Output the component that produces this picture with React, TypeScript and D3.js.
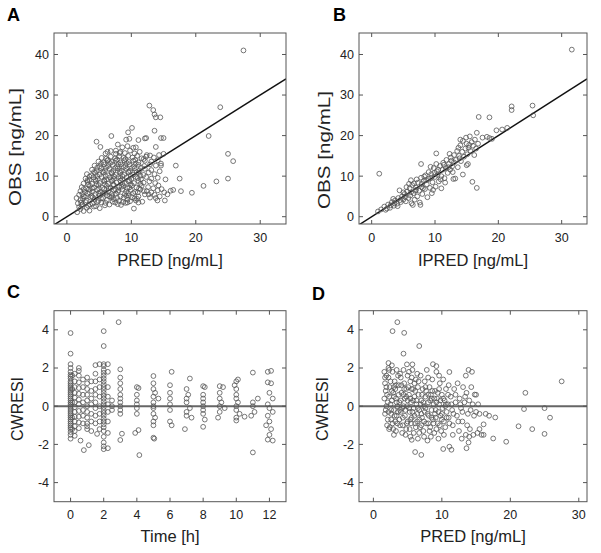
import React from "react";
import * as d3 from "d3";

const concXTicks = [0, 10, 20, 30];
const concYTicks = [0, 10, 20, 30, 40];
const timeTicks = [0, 2, 4, 6, 8, 10, 12];
const resTicks = [-4, -2, 0, 2, 4];

// Panel A: PRED vs OBS
const obsVsPred: [number, number][] = [
  [27.4, 41.0], [12.8, 27.4], [13.4, 26.3], [13.6, 25.2], [13.8, 24.5], [14.5, 24.5],
  [23.8, 27.0], [22.0, 19.9], [25.0, 15.5], [25.8, 13.7], [25.0, 9.4], [23.2, 8.7],
  [21.2, 7.6], [19.4, 5.9], [17.7, 6.3], [17.5, 9.4], [16.9, 12.6],
  [10.1, 21.9], [9.5, 20.8], [6.9, 19.9], [4.6, 18.5], [5.2, 17.2], [9.2, 19.0], [9.7, 19.2],
  [11.1, 18.9], [12.1, 19.3], [12.3, 19.4], [13.6, 21.2], [14.6, 19.4], [15.0, 19.4],
  [13.8, 17.2], [7.9, 17.8], [8.6, 17.1], [9.4, 17.4], [10.3, 17.0], [10.7, 17.1],
  [6.3, 16.0], [7.6, 16.3], [8.2, 15.7], [15.3, 9.2], [14.6, 12.6], [14.7, 6.8],
  [16.1, 6.4], [15.6, 5.5], [15.2, 4.0], [10.4, 2.0], [11.95, 6.3], [12.7, 5.5],
  [13.8, 4.6], [14.05, 4.0], [11.1, 3.5], [10.7, 4.0], [9.4, 3.5],
  [1.6, 1.1], [2.1, 1.9], [2.6, 1.4], [3.1, 2.2], [3.5, 1.5], [4.2, 2.5], [5.1, 2.1], [2.3, 2.8], [1.9, 2.4],
  [1.7, 3.3], [2.4, 3.0], [2.9, 3.6], [3.3, 2.7], [4.0, 3.2], [4.5, 2.6], [5.3, 3.5], [5.9, 2.8], [6.6, 3.0],
  [7.1, 3.7], [7.9, 3.1], [8.4, 2.9], [9.1, 3.4], [9.8, 3.8], [2.1, 4.1],
  [1.5, 4.6], [2.5, 4.4], [3.0, 4.0], [3.7, 4.7], [4.3, 4.2], [4.9, 3.9], [5.6, 4.6], [6.2, 4.1], [6.9, 4.8],
  [7.3, 4.3], [8.1, 3.9], [8.8, 4.7], [9.4, 4.2], [10.1, 4.8], [10.9, 4.4], [11.7, 3.7],
  [1.9, 5.4], [2.6, 5.0], [3.2, 5.7], [3.8, 5.1], [4.4, 5.6], [5.1, 5.2], [5.7, 5.8], [6.2, 5.3], [7.0, 5.1],
  [7.6, 5.7], [8.3, 5.0], [9.0, 5.6], [9.6, 5.2], [10.3, 5.8], [11.1, 5.0], [12.1, 5.5], [12.9, 4.7],
  [13.6, 5.4], [14.4, 5.0],
  [2.1, 6.3], [2.8, 6.1], [3.4, 6.7], [4.0, 6.2], [4.7, 6.6], [5.2, 6.1], [5.8, 6.8], [6.4, 6.3], [7.3, 6.5],
  [7.9, 6.1], [8.6, 6.8], [9.2, 6.2], [9.9, 6.6], [10.6, 6.1], [11.4, 6.7], [12.4, 6.3], [13.1, 6.0],
  [14.1, 6.5], [15.1, 6.0], [16.5, 6.6],
  [2.3, 7.3], [3.0, 7.0], [3.6, 7.6], [4.2, 7.2], [4.9, 7.8], [5.5, 7.1], [6.2, 7.6], [6.8, 7.1], [7.3, 7.8],
  [8.1, 7.3], [8.8, 7.6], [9.4, 7.0], [10.1, 7.7], [10.8, 7.2], [11.6, 7.6], [12.6, 7.3], [13.4, 7.0], [14.2, 7.7],
  [2.6, 8.2], [3.2, 8.6], [3.9, 8.1], [4.5, 8.8], [5.1, 8.3], [5.8, 8.7], [6.4, 8.1], [7.0, 8.8], [7.7, 8.4],
  [8.3, 8.9], [9.0, 8.2], [9.6, 8.7], [10.4, 8.3], [11.1, 8.8], [11.9, 8.4], [12.8, 8.7], [13.7, 8.3],
  [2.9, 9.4], [3.5, 9.1], [4.1, 9.7], [4.8, 9.3], [5.4, 9.8], [6.1, 9.2], [6.7, 9.7], [7.3, 9.3], [8.0, 9.8],
  [8.6, 9.2], [9.3, 9.7], [10.0, 9.3], [10.7, 9.8], [11.5, 9.2], [12.3, 9.8], [13.1, 9.4], [14.1, 9.6],
  [3.1, 10.5], [3.8, 10.2], [4.4, 10.8], [5.1, 10.4], [5.7, 10.9], [6.4, 10.2], [7.0, 10.7], [7.6, 10.3],
  [8.3, 10.8], [8.9, 10.3], [9.6, 10.9], [10.3, 10.4], [11.1, 10.8], [11.9, 10.3], [12.7, 10.9], [13.6, 10.5],
  [3.9, 11.6], [4.6, 11.3], [5.3, 11.9], [5.9, 11.4], [6.6, 11.8], [7.2, 11.3], [7.9, 11.9], [8.5, 11.4],
  [9.2, 11.8], [9.8, 11.3], [10.5, 11.9], [11.3, 11.4], [12.1, 11.8], [13.1, 11.5], [14.4, 11.2],
  [4.3, 12.6], [5.1, 12.4], [5.8, 12.9], [6.4, 12.5], [7.1, 12.8], [7.8, 12.4], [8.4, 12.9], [9.1, 12.5],
  [9.7, 12.9], [10.4, 12.4], [11.1, 12.8], [12.0, 12.5], [12.9, 12.9], [13.8, 12.6], [14.6, 13.1],
  [4.9, 13.6], [5.7, 13.4], [6.3, 13.9], [7.0, 13.5], [7.6, 13.8], [8.3, 13.4], [8.9, 13.9], [9.6, 13.5],
  [10.3, 13.8], [11.1, 13.4], [12.1, 13.8], [13.1, 13.6], [14.1, 13.9],
  [5.4, 14.5], [6.1, 14.3], [6.8, 14.8], [7.5, 14.4], [8.1, 14.9], [8.8, 14.5], [9.5, 15.0], [10.2, 14.6],
  [10.9, 15.0], [11.6, 14.4], [12.3, 14.8], [12.9, 15.1], [13.5, 14.6], [14.3, 15.2], [15.0, 15.5],
  [6.0, 15.6], [6.8, 16.2], [7.6, 15.5], [8.3, 16.0], [9.0, 15.7], [9.8, 16.3], [10.5, 15.6], [11.3, 16.0], [12.4, 15.2],
  [2.2, 3.5], [3.6, 3.0], [4.7, 3.6], [6.0, 3.4], [7.5, 3.5], [8.7, 3.6],
  [2.8, 4.9], [4.0, 4.8], [5.3, 4.5], [6.6, 5.0], [7.8, 4.6], [9.2, 5.1], [10.5, 4.5],
  [2.4, 5.6], [3.5, 6.0], [4.9, 5.7], [6.0, 5.9], [7.0, 5.6], [8.0, 6.5], [9.5, 5.8], [11.0, 6.0],
  [2.6, 6.8], [3.9, 7.0], [5.0, 6.9], [6.5, 7.0], [7.6, 6.7], [8.5, 7.4], [9.7, 7.2], [11.2, 7.0],
  [3.3, 7.9], [4.6, 8.0], [5.9, 8.0], [7.2, 7.9], [8.6, 8.1], [9.9, 8.0], [11.4, 8.1],
  [3.2, 9.0], [4.4, 9.2], [5.8, 9.0], [7.0, 9.1], [8.3, 9.5], [9.7, 9.0], [11.0, 9.5],
  [3.5, 9.9], [4.7, 10.0], [6.0, 10.0], [7.3, 9.9], [8.6, 10.0], [9.9, 10.1], [11.4, 10.1],
  [4.2, 11.0], [5.5, 11.1], [6.9, 11.0], [8.2, 11.2], [9.5, 11.1], [10.8, 11.0],
  [4.7, 12.1], [6.1, 12.1], [7.5, 12.0], [8.8, 12.2], [10.1, 12.0], [11.5, 12.1],
  [5.3, 13.1], [6.7, 13.2], [8.0, 13.0], [9.3, 13.2], [10.7, 13.1],
  [6.4, 14.0], [7.8, 14.1], [9.1, 14.2], [10.6, 14.0], [11.9, 14.2],
];

// Panel B: IPRED vs OBS
const obsVsIpred: [number, number][] = [
  [31.6, 41.2], [1.2, 10.6], [10.2, 15.6], [7.8, 13.0], [16.9, 24.6], [18.6, 24.5], [25.4, 27.4],
  [22.1, 27.2], [22.1, 26.3], [25.5, 25.0], [19.7, 21.3], [21.4, 21.9], [18.2, 19.7], [18.6, 19.4],
  [14.4, 10.4], [15.9, 8.6], [16.6, 7.1], [13.2, 9.4], [15.0, 12.7],
  [1.0, 1.3], [1.5, 1.8], [2.0, 2.5], [2.2, 1.7], [2.6, 3.0], [2.9, 2.2], [3.2, 3.6], [3.0, 2.8],
  [3.5, 2.7], [3.7, 4.0], [4.0, 3.2], [4.2, 4.6], [4.4, 6.5], [4.6, 3.6], [4.8, 5.0], [5.0, 4.2], [3.4, 4.4], [4.1, 2.6],
  [5.2, 5.6], [5.4, 3.8], [5.6, 6.2], [5.8, 4.6], [6.0, 7.0], [6.1, 5.2], [6.3, 3.3], [6.4, 7.8], [6.6, 5.8],
  [6.8, 4.2], [7.0, 7.2], [6.2, 9.0], [5.5, 7.3], [6.9, 6.4], [5.9, 8.1], [6.5, 2.9],
  [7.2, 5.0], [7.3, 8.4], [7.5, 6.4], [7.6, 3.5], [7.8, 9.6], [7.9, 7.3], [8.0, 5.6], [8.2, 8.8], [8.4, 6.8],
  [8.5, 10.2], [8.7, 8.0], [8.8, 4.8], [9.0, 9.3], [9.2, 7.1], [9.0, 11.0], [7.7, 2.9], [8.3, 9.9], [7.1, 9.2],
  [9.4, 10.5], [9.5, 5.8], [9.6, 8.5], [9.8, 12.0], [10.0, 9.8], [10.1, 7.4], [10.3, 11.2], [10.4, 10.3],
  [10.6, 8.7], [10.8, 12.5], [11.0, 10.0], [11.0, 7.0], [9.3, 12.3], [10.2, 13.0], [9.7, 6.6], [11.2, 11.6],
  [11.3, 13.3], [11.5, 9.5], [11.7, 12.0], [11.8, 14.0], [12.0, 10.8], [12.2, 13.0], [12.4, 11.6], [12.5, 14.6],
  [12.7, 12.4], [12.9, 9.3], [13.0, 15.2], [13.0, 13.4], [11.6, 8.4], [12.3, 15.5], [12.8, 11.0],
  [13.3, 14.0], [13.5, 16.2], [13.6, 12.2], [13.8, 15.0], [14.0, 17.6], [14.1, 13.7], [14.3, 16.0], [14.4, 18.7],
  [14.6, 14.8], [14.8, 16.8], [15.0, 18.0], [15.1, 15.4], [14.0, 19.0], [14.9, 19.5], [13.7, 17.0],
  [15.3, 17.0], [15.5, 19.8], [15.6, 16.2], [15.8, 18.4], [16.0, 17.5], [16.3, 19.0], [16.5, 16.8], [16.6, 20.7],
  [16.8, 18.0], [15.2, 13.0], [16.2, 15.2],
  [17.5, 19.5], [19.0, 19.2], [20.6, 21.5],
  [2.4, 2.0], [3.6, 3.3], [4.5, 4.1], [5.3, 4.9], [6.2, 6.0], [7.0, 6.6], [7.9, 8.1], [8.6, 9.0], [9.4, 9.6],
  [10.5, 11.6], [11.4, 12.8], [12.6, 13.8], [13.9, 14.4], [15.4, 17.7], [5.0, 6.0], [6.7, 8.2], [8.1, 7.0],
  [9.9, 10.8], [10.9, 9.2], [12.1, 12.2],
];

// Panel C: time vs CWRESI
const cwresVsTime: [number, number][] = [
  [0, 3.83], [0, 2.75], [0, 2.2], [0, 2.0], [0, 1.8], [0, 1.65], [0, 1.55], [0, 1.45], [0, 1.3], [0, 1.2],
  [0, 1.1], [0, 1.0], [0, 0.9], [0, 0.8], [0, 0.7], [0, 0.6], [0, 0.5], [0, 0.4], [0, 0.3], [0, 0.2],
  [0, 0.1], [0, 0], [0, -0.1], [0, -0.2], [0, -0.3], [0, -0.4], [0, -0.5], [0, -0.6], [0, -0.7], [0, -0.8],
  [0, -0.9], [0, -1.0], [0, -1.1], [0, -1.2], [0, -1.35], [0, -1.5], [0, -1.7],
  [0.1, 1.6], [0.1, 0.9], [0.1, 0.2], [0.1, -0.6], [0.1, -1.2],
  [0.25, 1.7], [0.25, 1.3], [0.25, 1.0], [0.25, 0.7], [0.25, 0.45], [0.25, 0.2], [0.25, -0.05], [0.25, -0.3],
  [0.25, -0.55], [0.25, -0.8], [0.25, -1.05], [0.25, -1.3], [0.25, -1.55],
  [0.5, 2.0], [0.5, 1.85], [0.5, 1.6], [0.5, 1.25], [0.5, 0.95], [0.5, 0.65], [0.5, 0.35], [0.5, 0.1],
  [0.5, -0.25], [0.5, -0.55], [0.5, -0.85], [0.5, -1.15], [0.6, -1.8],
  [0.75, 1.4], [0.75, 1.0], [0.75, 0.6], [0.75, 0.2], [0.75, -0.2], [0.75, -0.5], [0.75, -0.9], [0.8, -2.3],
  [1, 1.5], [1, 1.2], [1, 0.9], [1, 0.6], [1, 0.3], [1, 0], [1, -0.3], [1, -0.6], [1, -0.9], [1, -1.05],
  [1, -1.2], [1.1, -2.04],
  [1.25, 1.3], [1.25, 0.8], [1.25, 0.4], [1.25, 0.1], [1.25, -0.4], [1.25, -0.8], [1.25, -1.3],
  [1.5, 2.15], [1.5, 1.7], [1.5, 1.3], [1.5, 0.9], [1.5, 0.6], [1.5, 0.2], [1.5, -0.1], [1.5, -0.5],
  [1.5, -0.9], [1.6, -1.45],
  [1.75, 2.2], [1.75, 1.4], [1.75, 1.0], [1.75, 0.5], [1.75, 0], [1.75, -0.4], [1.75, -0.8], [1.75, -1.2],
  [2, 3.93], [2, 3.15], [2, 2.2], [2, 2.1], [2, 1.9], [2, 1.75], [2, 1.6], [2, 1.45], [2, 1.3], [2, 1.15],
  [2, 1.0], [2, 0.85], [2, 0.7], [2, 0.55], [2, 0.4], [2, 0.25], [2, 0.1], [2, -0.05], [2, -0.2], [2, -0.35],
  [2, -0.5], [2, -0.65], [2, -0.8], [2, -0.95], [2, -1.1], [2, -1.3], [2, -1.6], [2, -1.9], [2, -2.1], [2, -2.25],
  [2.25, 2.2], [2.25, 1.8], [2.25, 1.0], [2.25, 0.5], [2.25, 0.1], [2.25, -0.3], [2.25, -0.8], [2.25, -1.4],
  [2.25, -2.2], [2.5, 0.3], [2.5, 0.0], [2.5, -0.2],
  [2.9, 4.4], [3, 1.93], [3, 1.5], [3, 1.2], [3, 0.9], [3, 0.6], [3, 0.4], [3, 0.2], [3, 0], [3, -0.2],
  [3, -0.4], [3.1, -1.44], [3, -1.77],
  [4, 1.0], [4.1, 0.95], [4, 0.6], [4, 0.3], [4, 0.1], [4, -0.1], [4, -0.4], [4.1, -1.25], [3.9, -1.4], [4.15, -2.56],
  [5, 1.58], [5, 1.2], [5, 0.9], [5.1, 0.7], [5, 0.5], [5, 0.2], [5, 0], [5, -0.1], [5, -0.4], [5.1, -0.6],
  [5, -0.8], [5, -1.0], [5, -1.65], [5.05, -1.7], [5.3, 0.4],
  [6.1, 1.8], [6, 1.1], [6, 0.7], [6, 0.4], [6, 0.1], [6, -0.2], [6, -0.8], [6.1, -1.0],
  [7.2, 1.45], [7, 0.9], [7.1, 0.6], [7, 0.4], [7, 0.2], [7.2, -0.1], [7, -0.3], [7, -0.5], [7.3, -0.6], [6.9, -1.2],
  [8, 1.05], [8.1, 1.0], [8, 0.6], [8, 0.4], [8, 0.2], [8, 0], [8, -0.2], [8, -0.4], [8.1, -0.7], [8, -1.08],
  [9, 1.05], [9.2, 1.0], [9, 0.7], [9, 0.4], [9.1, 0.2], [9, 0], [9.3, -0.1], [9, -0.3], [8.9, -0.6],
  [10.1, 1.4], [10, 1.3], [9.9, 1.1], [10, 0.9], [10, 0.6], [10, 0.4], [10.1, 0.2], [10, 0], [10, -0.2],
  [10.2, -0.4], [10, -0.6], [10.5, -0.55], [10, -0.75],
  [11, 1.76], [11.3, 0.4], [11, 0.2], [11, 0], [11.1, -0.3], [10.9, -0.5], [11, -2.42],
  [11.9, 1.8], [12.1, 1.85], [11.9, 1.25], [12.1, 1.2], [12, 0.7], [12.2, 0.4], [11.9, 0.1], [12, -0.1],
  [12.2, -0.3], [11.9, -0.5], [12, -0.8], [11.8, -1.0], [12.1, -1.2], [12, -1.5], [11.9, -1.75], [12.2, -1.8],
];

// Panel D: PRED vs CWRESI
const cwresVsPred: [number, number][] = [
  [3.5, 4.4], [2.8, 3.93], [4.5, 3.84], [4.4, 2.75], [6.7, 3.15], [2.2, 2.26], [2.7, 2.14], [4.9, 2.19],
  [5.7, 2.19], [8.7, 2.2], [9.2, 2.1], [11.1, 1.79], [13.9, 1.9], [14.4, 1.8], [13.5, 1.6],
  [6.1, -2.4], [7.0, -2.55], [10.2, -2.24], [11.1, -2.12], [11.4, -2.28], [13.6, -2.2], [13.9, -1.9],
  [17.5, -1.69], [19.4, -1.86], [5.6, -1.76], [14.8, 0.61], [17.8, -0.59], [16.1, -0.95],
  [22.2, 0.7], [22.0, -0.15], [25.0, -0.1], [25.8, -0.6], [21.2, -1.05], [23.2, -1.2], [25.0, -1.45], [27.5, 1.3],
  [1.6, 1.8], [1.7, 1.2], [1.8, 0.8], [1.6, 0.4], [1.9, 0.0], [1.7, -0.4], [2.0, -1.0], [2.2, 1.5], [2.4, 1.0],
  [2.3, 0.5], [2.5, 0.1], [2.2, -0.3], [2.6, -0.7], [2.4, -1.1], [2.8, 1.8], [2.9, 0.7], [2.7, 0.3], [3.0, -0.2],
  [2.9, -1.2], [3.1, 1.3],
  [3.2, 0.9], [3.3, 0.4], [3.4, -0.5], [3.5, -0.9], [3.3, -1.3], [3.6, 1.6], [3.7, 1.1], [3.8, 0.2], [3.9, -0.2],
  [3.8, -0.7], [4.0, 1.5], [4.1, 0.7], [4.2, -0.1], [4.3, -1.0], [4.4, 1.9], [4.5, 1.2], [4.6, 0.4], [4.6, -0.5],
  [4.7, -1.5], [4.8, 0.9], [4.9, 0.0], [5.0, -0.8], [5.0, 1.6],
  [5.2, 0.6], [5.3, -0.3], [5.3, -1.2], [5.4, 1.3], [5.5, 0.2], [5.6, -0.6], [5.7, 1.9], [5.8, 0.9], [5.9, -0.1],
  [5.9, -1.4], [6.0, 0.5], [6.1, -0.9], [6.2, 1.4], [6.3, 0.1], [6.4, -0.4], [6.5, -1.7], [6.5, 1.0], [6.6, 0.6],
  [6.7, -0.2], [6.8, -1.1], [6.9, 1.6], [7.0, 0.3],
  [7.1, -0.6], [7.2, 0.9], [7.3, -1.3], [7.4, 0.0], [7.5, 1.3], [7.5, -0.3], [7.6, 0.5], [7.7, -0.9], [7.8, 1.9],
  [7.9, -1.8], [8.0, 0.2], [8.1, -0.5], [8.2, 1.0], [8.3, -1.1], [8.4, 0.6], [8.5, -0.2], [8.6, 1.4], [8.7, -0.7],
  [8.8, 0.1], [8.9, -1.4], [9.0, 0.8], [9.0, -0.4],
  [9.2, 1.8], [9.3, 0.4], [9.4, -0.9], [9.5, -1.7], [9.6, 0.1], [9.7, 1.2], [9.8, -0.5], [9.9, -1.3], [10.0, 0.6],
  [10.1, -0.1], [10.2, 1.4], [10.3, -0.8], [10.4, 0.3], [10.5, -1.1], [10.6, 0.9], [10.7, -0.3], [10.9, 0.1],
  [11.0, -0.6], [11.0, 1.1],
  [11.3, 0.5], [11.5, -0.2], [11.6, -1.0], [11.8, 0.9], [12.0, 0.2], [12.2, -0.5], [12.3, 1.2], [12.5, -1.3],
  [12.6, 0.4], [12.8, -0.1], [13.0, -0.8], [13.1, 1.0], [13.3, 0.2], [13.5, -1.5], [13.6, 0.7], [13.8, -0.4],
  [14.0, 0.3], [14.1, -1.2], [14.3, 1.0], [14.5, 0.1], [14.7, -0.5], [15.0, 0.6], [15.2, -1.4], [15.5, -0.4],
  [15.8, -1.5], [16.4, -0.4], [16.9, -0.5],
  [2.0, 0.6], [2.6, -0.2], [3.0, 1.0], [3.5, 0.0], [4.0, -0.3], [4.4, 0.6], [5.0, 0.3], [5.5, -0.9], [6.0, 1.2],
  [6.4, -0.8], [7.0, -0.4], [7.6, 1.0], [8.0, -0.9], [8.5, 0.4], [9.1, -0.2], [9.6, 0.9], [10.0, -0.7], [10.6, 0.1],
  [3.2, -0.8], [4.8, -1.2], [6.7, -1.4], [8.4, -1.6], [2.3, 1.9], [3.9, 1.7], [5.6, 1.5],
  [1.7, 1.5], [1.9, 1.0], [2.1, 0.2], [1.8, -0.2], [2.1, -0.7], [2.3, -1.2], [1.9, 1.6], [2.5, 1.3], [2.7, 0.8],
  [2.6, -0.4], [2.8, -0.9], [3.0, 0.5], [3.1, -0.5], [3.3, 1.1], [3.4, 0.2], [3.6, -0.3], [3.7, 0.6], [3.9, -1.0],
  [4.0, 0.3], [4.1, 1.1], [4.3, -0.6], [4.4, 0.0], [4.5, 0.9], [4.7, -0.2], [4.8, 0.5], [4.9, -0.9], [5.1, 1.0],
  [5.2, -0.1], [5.4, 0.4], [5.4, -0.7], [5.6, 0.9], [5.7, -0.3], [5.8, 0.3], [6.0, -0.5], [6.1, 0.8], [6.2, -1.1],
  [6.3, 0.3], [6.5, -0.1], [6.6, 1.3], [6.7, -0.7], [6.9, 0.1], [7.0, -1.0], [7.1, 0.6], [7.3, 0.2], [7.4, -0.8],
  [7.6, -0.1], [7.7, 0.8], [7.9, -0.4], [8.0, 0.6], [8.2, -1.3], [8.3, 0.3], [8.5, -0.6], [8.6, 0.8], [8.8, -0.9],
  [8.9, 0.4], [9.1, -0.6], [9.2, 0.2], [9.4, 0.7], [9.5, -0.3], [9.7, -1.0], [9.8, 0.3], [10.0, -0.4], [10.2, 0.4],
  [10.3, -1.5], [10.5, 0.0], [10.7, -0.6], [10.9, 0.6], [11.1, -0.9], [11.4, 0.1], [11.7, -0.4], [12.0, 0.6],
  [12.4, -0.8], [12.7, 0.1], [13.0, -0.3], [13.4, 0.5], [13.7, -1.0], [14.2, -0.2], [14.6, -1.5], [15.0, -0.3],
  [15.3, 0.1], [2.2, 2.0], [3.4, 1.9], [5.2, 1.8], [6.4, 1.7], [8.0, 1.5], [9.6, 1.6], [3.0, -1.5], [4.2, -1.4],
  [5.4, -1.6], [7.4, -1.6], [9.2, -1.2], [11.6, -1.5], [12.9, -1.7], [14.0, -1.6], [15.5, -1.2], [16.1, -1.5],
];

type Pt = [number, number];

interface PanelProps {
  id: string;
  letter: string;
  letterX: number;
  letterY: number;
  left: number;
  right: number;
  top: number;
  bottom: number;
  xDomain: [number, number];
  yDomain: [number, number];
  xTicks: number[];
  yTicks: number[];
  data: Pt[];
  refLine: "identity" | "zero";
  xLabel: string;
  yLabel: string;
  yLabelX: number;
  yLabelY: number;
  yLabelLength?: number;
  xTickY: number;
  xLabelY: number;
}

const FONT = "'Liberation Sans', Arial, Helvetica, sans-serif";
const TEXT = "#222";
const AXIS = "#555";

function Panel(p: PanelProps) {
  const x = d3.scaleLinear().domain(p.xDomain).range([p.left, p.right]);
  const y = d3.scaleLinear().domain(p.yDomain).range([p.bottom, p.top]);
  const tl = 4;
  const cx = (p.left + p.right) / 2;
  return (
    <g>
      <defs>
        <clipPath id={`clip-${p.id}`}>
          <rect x={p.left} y={p.top} width={p.right - p.left} height={p.bottom - p.top} />
        </clipPath>
      </defs>
      <text x={p.letterX} y={p.letterY} fontFamily={FONT} fontWeight="bold" fontSize={18} fill="#000">
        {p.letter}
      </text>
      <g clipPath={`url(#clip-${p.id})`}>
        {p.refLine === "identity" ? (
          <line
            x1={x(p.xDomain[0])}
            y1={y(p.xDomain[0])}
            x2={x(p.xDomain[1])}
            y2={y(p.xDomain[1])}
            stroke="#111"
            strokeWidth={1.5}
          />
        ) : (
          <line x1={p.left} x2={p.right} y1={y(0)} y2={y(0)} stroke="#666" strokeWidth={2} />
        )}
        {p.data.map((d, i) => (
          <circle key={i} cx={x(d[0])} cy={y(d[1])} r={2.4} fill="none" stroke="#555" strokeWidth={0.8} />
        ))}
      </g>
      <rect
        x={p.left}
        y={p.top}
        width={p.right - p.left}
        height={p.bottom - p.top}
        fill="none"
        stroke={AXIS}
        strokeWidth={1}
      />
      {p.xTicks.map((t) => (
        <g key={`xt${t}`}>
          <line x1={x(t)} x2={x(t)} y1={p.bottom} y2={p.bottom - tl} stroke={AXIS} />
          <line x1={x(t)} x2={x(t)} y1={p.top} y2={p.top + tl} stroke={AXIS} />
          <text x={x(t)} y={p.xTickY} textAnchor="middle" fontFamily={FONT} fontSize={12.5} fill={TEXT}>
            {t}
          </text>
        </g>
      ))}
      {p.yTicks.map((t) => (
        <g key={`yt${t}`}>
          <line x1={p.left} x2={p.left + tl} y1={y(t)} y2={y(t)} stroke={AXIS} />
          <line x1={p.right} x2={p.right - tl} y1={y(t)} y2={y(t)} stroke={AXIS} />
          <text
            x={p.left - 5}
            y={y(t)}
            dy="0.35em"
            textAnchor="end"
            fontFamily={FONT}
            fontSize={12.5}
            fill={TEXT}
          >
            {t}
          </text>
        </g>
      ))}
      <text x={cx} y={p.xLabelY} textAnchor="middle" fontFamily={FONT} fontSize={16.5} fill={TEXT}>
        {p.xLabel}
      </text>
      <text
        transform={`translate(${p.yLabelX},${p.yLabelY}) rotate(-90)`}
        textAnchor="middle"
        fontFamily={FONT}
        fontSize={16}
        fill={TEXT}
        {...(p.yLabelLength ? { textLength: p.yLabelLength, lengthAdjust: "spacingAndGlyphs" } : {})}
      >
        {p.yLabel}
      </text>
    </g>
  );
}

export default function App() {
  const topBox = { top: 33, bottom: 224 };
  const botBox = { top: 310.7, bottom: 501.7 };
  return (
    <svg width={601} height={553} style={{ position: "absolute", left: 0, top: 0, background: "#fff" }}>
      <rect x={0} y={0} width={601} height={553} fill="#fff" />
      <Panel
        id="a"
        letter="A"
        letterX={7}
        letterY={21}
        left={54}
        right={286}
        {...topBox}
        xDomain={[-2, 34]}
        yDomain={[-1.8, 45.3]}
        xTicks={concXTicks}
        yTicks={concYTicks}
        data={obsVsPred}
        refLine="identity"
        xLabel="PRED [ng/mL]"
        yLabel="OBS [ng/mL]"
        yLabelX={21}
        yLabelY={147}
        yLabelLength={118}
        xTickY={242}
        xLabelY={266}
      />
      <Panel
        id="b"
        letter="B"
        letterX={333}
        letterY={21}
        left={359}
        right={587}
        {...topBox}
        xDomain={[-2, 34]}
        yDomain={[-1.8, 45.3]}
        xTicks={concXTicks}
        yTicks={concYTicks}
        data={obsVsIpred}
        refLine="identity"
        xLabel="IPRED [ng/mL]"
        yLabel="OBS [ng/mL]"
        yLabelX={330}
        yLabelY={150}
        yLabelLength={118}
        xTickY={242}
        xLabelY={266}
      />
      <Panel
        id="c"
        letter="C"
        letterX={7}
        letterY={298}
        left={54}
        right={286}
        {...botBox}
        xDomain={[-1, 13]}
        yDomain={[-5, 5]}
        xTicks={timeTicks}
        yTicks={resTicks}
        data={cwresVsTime}
        refLine="zero"
        xLabel="Time [h]"
        yLabel="CWRESI"
        yLabelX={23}
        yLabelY={409}
        xTickY={519}
        xLabelY={542}
      />
      <Panel
        id="d"
        letter="D"
        letterX={312}
        letterY={300}
        left={359}
        right={587}
        {...botBox}
        xDomain={[-2.1, 31.2]}
        yDomain={[-5, 5]}
        xTicks={concXTicks}
        yTicks={resTicks}
        data={cwresVsPred}
        refLine="zero"
        xLabel="PRED [ng/mL]"
        yLabel="CWRESI"
        yLabelX={328}
        yLabelY={409}
        xTickY={519}
        xLabelY={542}
      />
    </svg>
  );
}
